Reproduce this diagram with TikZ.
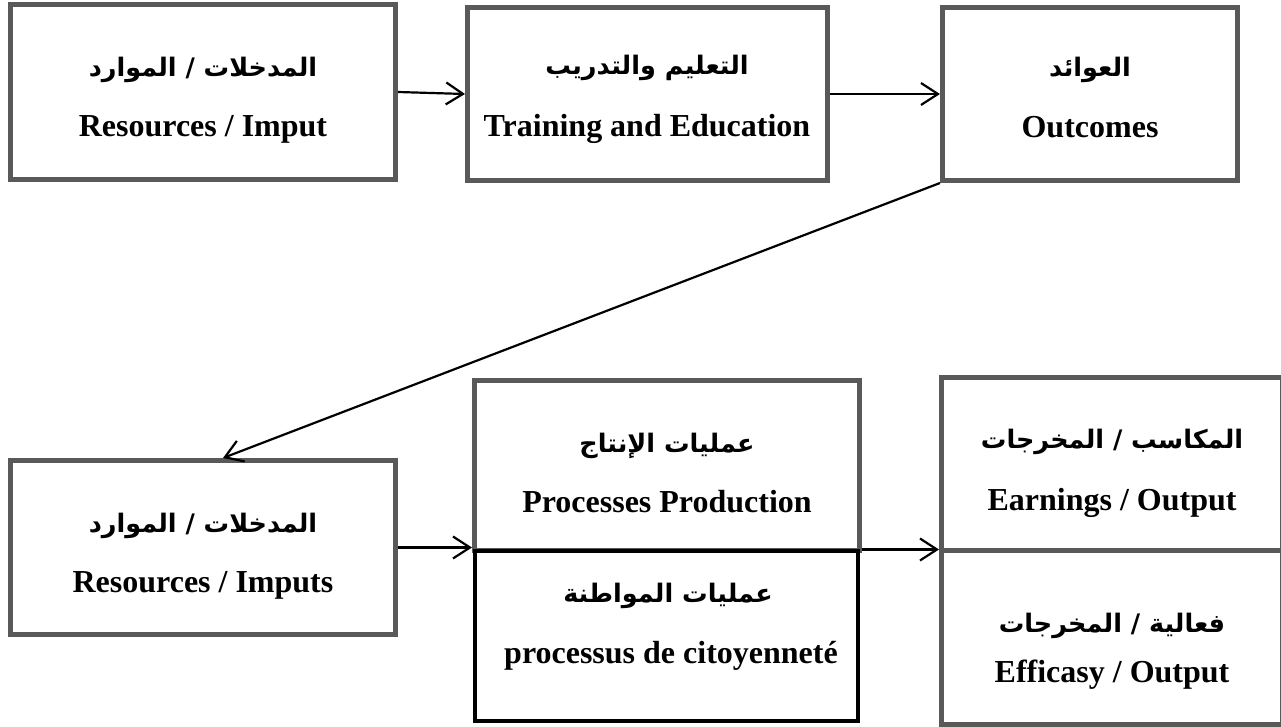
\documentclass[tikz,border=0pt]{standalone}
\usepackage{fontspec}
\setmainfont{Liberation Serif}
\newfontfamily\arabicfont[Script=Arabic]{DejaVu Sans}
\TeXXeTstate=1
\usetikzlibrary{arrows.meta}
\definecolor{boxgray}{RGB}{89,89,89}
\begin{document}
\begin{tikzpicture}[x=1pt,y=-1pt,
  box/.style={draw=boxgray, line width=5pt, fill=white, rectangle, inner sep=0pt},
  blackbox/.style={draw=black, line width=4pt, fill=white, rectangle, inner sep=0pt},
  lat/.style={anchor=base, inner sep=0pt, font=\fontsize{32}{32}\selectfont\bfseries},
  arab/.style={anchor=base, inner sep=0pt, font=\fontsize{25.5}{25.5}\selectfont\arabicfont\bfseries},
  arr/.style={line width=2.2pt, -{Straight Barb[length=17pt,width=22pt,line width=2.2pt]}}]
\useasboundingbox (0,0) rectangle (1281,727);

% top row
\node[box, minimum width=385pt, minimum height=175pt] (in1) at (203,92) {};
\node[box, minimum width=360pt, minimum height=173pt] (edu) at (647.5,94) {};
\node[box, minimum width=295pt, minimum height=173pt] (out) at (1090,94) {};

% bottom row
\node[box, minimum width=385pt, minimum height=174pt] (in2) at (203,547.5) {};
\node[box, minimum width=385pt, minimum height=170pt] (proc) at (667,465) {};
\node[blackbox, minimum width=383pt, minimum height=170pt] (cit) at (666,635.5) {};
\node[box, minimum width=341pt, minimum height=173pt] (earn) at (1112,464) {};
\node[box, minimum width=341pt, minimum height=174pt] (eff) at (1112,637.5) {};

% labels
\node[arab] (t1a) at (203,77) {\beginR المدخلات / الموارد\endR};
\node[lat]  (t1b) at (203,137) {Resources / Imput};
\node[arab] (t2a) at (647,75) {\beginR التعليم والتدريب\endR};
\node[lat]  (t2b) at (647,137) {Training and Education};
\node[arab] (t3a) at (1090,77) {\beginR العوائد\endR};
\node[lat]  (t3b) at (1090,138) {Outcomes};
\node[arab] (t4a) at (203,532) {\beginR المدخلات / الموارد\endR};
\node[lat]  (t4b) at (203,592) {Resources / Imputs};
\node[arab] (t5a) at (667,452) {\beginR عمليات الإنتاج\endR};
\node[lat]  (t5b) at (667,512) {Processes Production};
\node[arab] (t6a) at (668,602) {\beginR عمليات المواطنة\endR};
\node[lat]  (t6b) at (671,663) {processus de citoyenneté};
\node[arab] (t7a) at (1112,448) {\beginR المكاسب / المخرجات\endR};
\node[lat]  (t7b) at (1112,510) {Earnings / Output};
\node[arab] (t8a) at (1112,632) {\beginR فعالية / المخرجات\endR};
\node[lat]  (t8b) at (1112,682) {Efficasy / Output};

% connectors
\draw[arr] (in1.east) -- (edu.west);
\draw[arr] (edu.east) -- (out.west);
\draw[arr] (out.south west) -- ([xshift=20pt]in2.north);
\draw[arr] (in2.east) -- (in2.east -| proc.west);
\draw[arr] ([yshift=3pt]proc.south east) -- ([yshift=3pt]proc.south east -| earn.west);
\end{tikzpicture}
\end{document}
